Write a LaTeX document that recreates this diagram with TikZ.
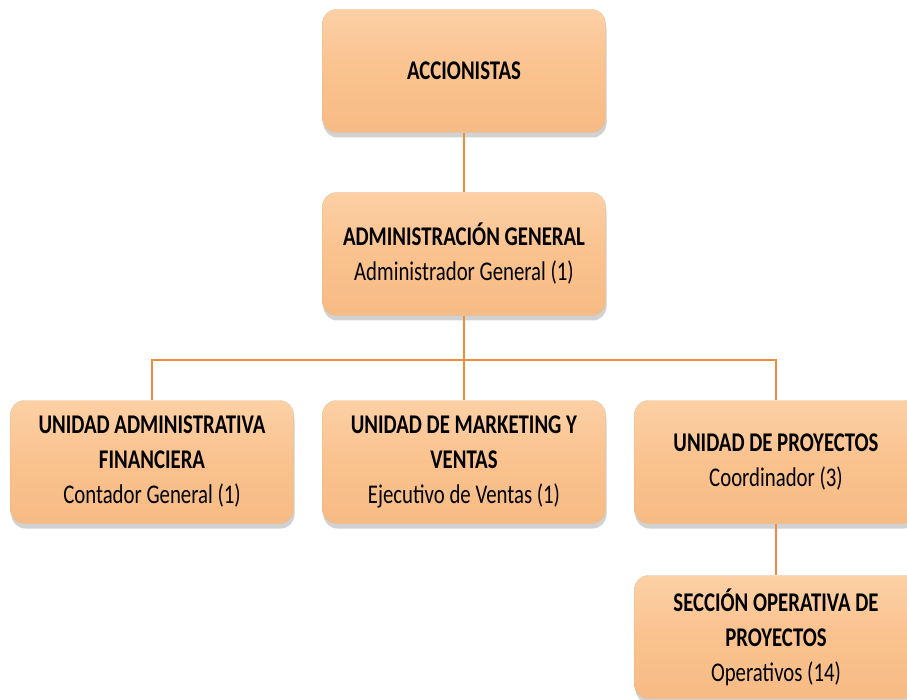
\documentclass[tikz,border=0pt]{standalone}
\usepackage{fontspec}
\setmainfont[FakeStretch=0.77]{Carlito}
\usetikzlibrary{shadows}

\definecolor{boxfill}{HTML}{FAC28E}
\definecolor{boxtop}{HTML}{FCD0A5}
\definecolor{boxbot}{HTML}{F7BB85}
\definecolor{linkorange}{HTML}{F58A3C}

\tikzset{
  unitbox/.style={rectangle, rounded corners=14pt, minimum width=283pt,
    minimum height=123pt, inner sep=2pt, align=center,
    top color=boxtop, bottom color=boxbot, middle color=boxfill,
    draw=boxbot!90!black!80, line width=0.3pt,
    drop shadow={shadow xshift=1pt, shadow yshift=-5pt, fill=black!45, opacity=0.4},
    font=\fontsize{27}{35}\selectfont},
  link/.style={draw=linkorange, line width=2pt}
}

\begin{document}
\begin{tikzpicture}[x=1pt,y=-1pt] % pixel coordinates, y grows downwards
    \useasboundingbox (0,0) rectangle (907,700);
    \clip (0,0) rectangle (907,700);

    % Top levels
    \node[unitbox] (acc) at (464,71) {\textbf{ACCIONISTAS}};
    \node[unitbox] (adm) at (464,254)
        {\textbf{ADMINISTRACIÓN GENERAL}\\Administrador General (1)};

    % Units
    \node[unitbox] (uaf) at (152,462)
        {\textbf{UNIDAD ADMINISTRATIVA}\\\textbf{FINANCIERA}\\Contador General (1)};
    \node[unitbox] (umv) at (464,462)
        {\textbf{UNIDAD DE MARKETING Y}\\\textbf{VENTAS}\\Ejecutivo de Ventas (1)};
    \node[unitbox] (upr) at (776,462)
        {\textbf{UNIDAD DE PROYECTOS}\\Coordinador (3)};

    % Section
    \node[unitbox] (sop) at (776,637)
        {\textbf{SECCIÓN OPERATIVA DE}\\\textbf{PROYECTOS}\\Operativos (14)};

    % Connectors
    \coordinate (bus) at (464,360);
    \draw[link] (acc.south) -- (adm.north);
    \draw[link] (adm.south) -- (bus);
    \draw[link] (bus) -| (uaf.north);
    \draw[link] (bus) -- (umv.north);
    \draw[link] (bus) -| (upr.north);
    \draw[link] (upr.south) -- (sop.north);
\end{tikzpicture}
\end{document}
